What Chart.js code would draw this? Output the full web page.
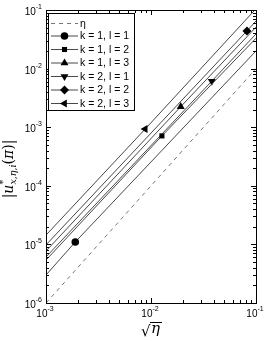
<!DOCTYPE html>
<html>
<head>
<meta charset="utf-8">
<script src="https://cdn.jsdelivr.net/npm/chart.js@4/dist/chart.umd.min.js"></script>
<style>
  body { margin: 0; background: #fff; }
  canvas { display: block; }
</style>
</head>
<body>
<canvas id="chart" width="266" height="341"></canvas>
<script>
// values
const seriesLabels = ['k = 1, l = 1', 'k = 1, l = 2', 'k = 1, l = 3', 'k = 2, l = 1', 'k = 2, l = 2', 'k = 2, l = 3'];
const lineX = [1e-3, 1e-1];
const lineStartY = [3.0e-6, 5.4e-6, 7.7e-6, 6.1e-6, 9.8e-6, 1.44e-5];
const lineEndY = [0.020, 0.033, 0.051, 0.039, 0.065, 0.105];
const markerX = [1.9e-3, 0.0127, 0.0192, 0.0379, 0.082, 0.0088];
const markerY = [1.1e-5, 7.1e-4, 2.24e-3, 6.1e-3, 0.044, 9.3e-4];
const etaX = [1e-3, 1e-1];
const etaY = [1e-6, 1e-2];
const xTickExps = [-3, -2, -1];
const yTickExps = [-6, -5, -4, -3, -2, -1];

const markerStyles = [
    { pointStyle: 'circle', rotation: 0, radius: 3.8 },
    { pointStyle: 'rect', rotation: 0, radius: 3.6 },
    { pointStyle: 'triangle', rotation: 0, radius: 4.6 },
    { pointStyle: 'triangle', rotation: 180, radius: 4.6 },
    { pointStyle: 'rectRot', rotation: 0, radius: 4.5 },
    { pointStyle: 'triangle', rotation: 270, radius: 4.6 }
];
const lineColor = '#484848';

const datasets = seriesLabels.map((label, i) => ({
    label: label,
    data: [
        { x: lineX[0], y: lineStartY[i] },
        { x: markerX[i], y: markerY[i] },
        { x: lineX[1], y: lineEndY[i] }
    ],
    showLine: true,
    borderColor: lineColor,
    borderWidth: 1,
    backgroundColor: '#000',
    pointBackgroundColor: '#000',
    pointBorderColor: '#000',
    pointBorderWidth: 0,
    pointStyle: markerStyles[i].pointStyle,
    pointRotation: markerStyles[i].rotation,
    pointRadius: [0, markerStyles[i].radius, 0]
}));

datasets.unshift({
    label: 'η',
    data: etaX.map((x, i) => ({ x: x, y: etaY[i] })),
    showLine: true,
    borderColor: '#777',
    borderWidth: 1,
    borderDash: [4, 4],
    pointRadius: 0
});

function drawPow(ctx, exp, x, y, align) {
    const base = '10';
    const sup = '-' + Math.abs(exp);
    ctx.font = '10px "Liberation Sans", Arial, sans-serif';
    const wb = ctx.measureText(base).width;
    ctx.font = '7px "Liberation Sans", Arial, sans-serif';
    const ws = ctx.measureText(sup).width;
    let x0 = x;
    if (align === 'right') x0 = x - wb - ws;
    if (align === 'center') x0 = x - (wb + ws) / 2;
    ctx.textAlign = 'left';
    ctx.textBaseline = 'alphabetic';
    ctx.font = '10px "Liberation Sans", Arial, sans-serif';
    ctx.fillText(base, x0, y);
    ctx.font = '7px "Liberation Sans", Arial, sans-serif';
    ctx.fillText(sup, x0 + wb, y - 6);
}

const axesPlugin = {
    id: 'axesPlugin',
    afterDraw(chart) {
        const ctx = chart.ctx;
        const a = chart.chartArea;
        const xs = chart.scales.x;
        const ys = chart.scales.y;
        ctx.save();
        ctx.strokeStyle = '#000';
        ctx.fillStyle = '#000';
        ctx.lineWidth = 1;
        ctx.strokeRect(Math.round(a.left) + 0.5, Math.round(a.top) + 0.5,
            Math.round(a.right - a.left), Math.round(a.bottom - a.top));

        // ticks, inward on all sides
        ctx.beginPath();
        for (let d = -3; d <= -1; d++) {
            for (let m = 1; m <= 9; m++) {
                if (d === -1 && m > 1) break;
                const px = Math.round(xs.getPixelForValue(m * Math.pow(10, d))) + 0.5;
                const len = m === 1 ? 5 : 3;
                ctx.moveTo(px, a.bottom); ctx.lineTo(px, a.bottom - len);
                ctx.moveTo(px, a.top); ctx.lineTo(px, a.top + len);
            }
        }
        for (let d = -6; d <= -1; d++) {
            for (let m = 1; m <= 9; m++) {
                if (d === -1 && m > 1) break;
                const py = Math.round(ys.getPixelForValue(m * Math.pow(10, d))) + 0.5;
                const len = m === 1 ? 5 : 3;
                ctx.moveTo(a.left, py); ctx.lineTo(a.left + len, py);
                ctx.moveTo(a.right, py); ctx.lineTo(a.right - len, py);
            }
        }
        ctx.stroke();

        // tick labels
        xTickExps.forEach(e => {
            drawPow(ctx, e, xs.getPixelForValue(Math.pow(10, e)) - 1, a.bottom + 14, 'center');
        });
        yTickExps.forEach(e => {
            drawPow(ctx, e, a.left - 4, ys.getPixelForValue(Math.pow(10, e)) + 5, 'right');
        });

        // x title: sqrt(eta)
        ctx.textBaseline = 'alphabetic';
        ctx.textAlign = 'left';
        ctx.font = '15px "DejaVu Serif", serif';
        ctx.fillText('√', 141, 336);
        ctx.font = 'italic 15px "DejaVu Serif", serif';
        ctx.fillText('η', 151, 333);
        ctx.beginPath();
        ctx.moveTo(150, 322.5); ctx.lineTo(162, 322.5);
        ctx.stroke();

        // y title
        ctx.save();
        ctx.translate(8, 169);
        ctx.rotate(-Math.PI / 2);
        const big = '14px "DejaVu Serif", serif';
        const bigI = 'italic 14px "DejaVu Serif", serif';
        const small = '9.5px "DejaVu Serif", serif';
        const smallI = 'italic 9.5px "DejaVu Serif", serif';
        const parts = [
            ['|', big, 0], ['u', bigI, 0], ['*', small, -7, true],
            ['x', smallI, 3], [',', small, 3], ['η', smallI, 3], [',', small, 3], ['i', smallI, 3],
            ['(', big, 0], ['π', bigI, 0], [')', big, 0], ['|', big, 0]
        ];
        let w = 0;
        parts.forEach(p => { ctx.font = p[1]; if (!p[3]) w += ctx.measureText(p[0]).width; });
        let cx = -w / 2;
        parts.forEach(p => {
            ctx.font = p[1];
            ctx.fillText(p[0], cx, 5 + p[2]);
            if (!p[3]) cx += ctx.measureText(p[0]).width;
        });
        ctx.restore();

        // legend
        const lx = 48.5, ly = 13.5, lw = 86, lh = 97;
        ctx.fillStyle = '#fff';
        ctx.fillRect(lx, ly, lw, lh);
        ctx.strokeStyle = '#000';
        ctx.strokeRect(lx, ly, lw, lh);
        const rows = [23.5, 36, 49.5, 63, 76.5, 90, 103.5];
        ctx.font = '10.5px "Liberation Sans", Arial, sans-serif';
        ctx.textBaseline = 'middle';
        ctx.textAlign = 'left';
        chart.data.datasets.forEach((ds, i) => {
            const ry = rows[i];
            ctx.save();
            ctx.strokeStyle = ds.borderColor;
            ctx.lineWidth = 1;
            ctx.setLineDash(ds.borderDash || []);
            ctx.beginPath();
            ctx.moveTo(51, ry); ctx.lineTo(78, ry);
            ctx.stroke();
            ctx.restore();
            if (i > 0) {
                const ms = markerStyles[i - 1];
                ctx.fillStyle = '#000';
                ctx.strokeStyle = '#000';
                Chart.helpers.drawPoint(ctx, {
                    pointStyle: ms.pointStyle, rotation: ms.rotation,
                    radius: ms.radius, borderWidth: 0
                }, 64.5, ry);
            }
            ctx.fillStyle = '#000';
            ctx.fillText(ds.label, 80, ry + 0.5);
        });
        ctx.restore();
    }
};

new Chart(document.getElementById('chart'), {
    type: 'scatter',
    data: { datasets: datasets },
    options: {
        responsive: false,
        animation: false,
        devicePixelRatio: 1,
        layout: { padding: { left: 46, right: 10, top: 10, bottom: 38 } },
        plugins: { legend: { display: false }, tooltip: { enabled: false } },
        scales: {
            x: { type: 'logarithmic', min: 1e-3, max: 1e-1, display: false },
            y: { type: 'logarithmic', min: 1e-6, max: 1e-1, display: false }
        }
    },
    plugins: [axesPlugin]
});
</script>
</body>
</html>
